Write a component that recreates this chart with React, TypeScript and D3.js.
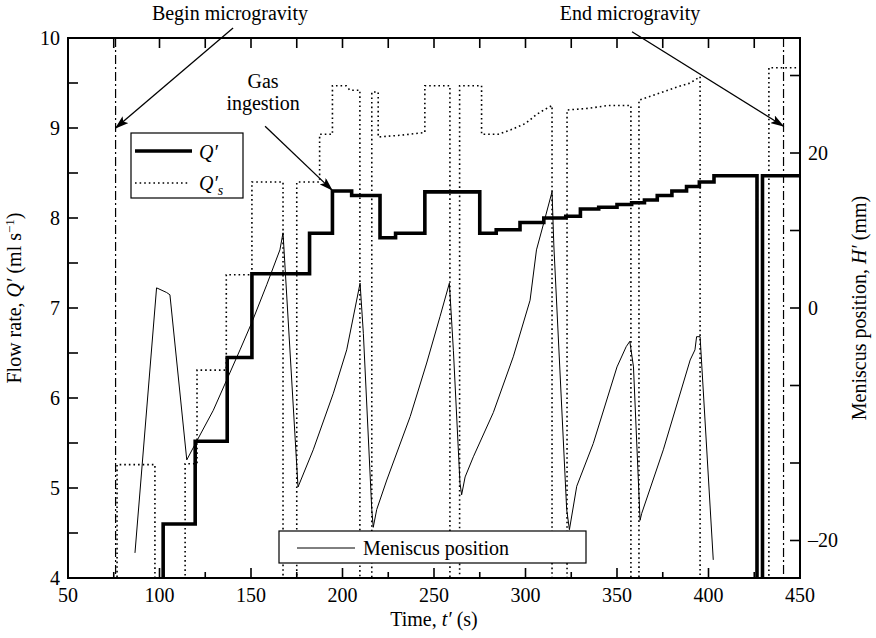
import React from 'react';
import * as d3 from 'd3';

// ---------- data ----------
// Q' (measured flow rate), step-wise, ml/s
const qTime = [102, 102, 119.5, 137, 150.5, 182, 194.5, 205, 220.5, 229, 245, 275, 284, 297, 310, 322, 330, 340, 350, 358, 365, 372, 380, 388, 395, 403, 426.5, 429.5, 450];
const qValue = [3.7, 4.6, 5.52, 6.45, 7.38, 7.83, 8.30, 8.25, 7.78, 7.83, 8.29, 7.83, 7.87, 7.95, 8.0, 8.02, 8.1, 8.12, 8.15, 8.17, 8.2, 8.25, 8.3, 8.35, 8.4, 8.47, 3.7, 8.47, 8.47];

// Q's (set flow rate), ml/s  (values below 4 = pump off, off-axis)
const qsTime = [76.8, 76.8, 97.5, 97.5, 114, 114, 120.5, 120.5, 136.5, 136.5, 150.5, 150.5, 167.5, 167.5, 175, 175, 187.5, 187.5, 194.5, 194.5, 202, 204, 209.5, 209.5, 216, 216, 219.5, 219.5, 232, 245, 245, 258.7, 258.7, 264, 264, 276, 276, 285, 292, 300, 306, 310, 314.5, 314.5, 322.7, 322.7, 335, 345, 357.6, 357.6, 362, 362, 372, 382, 390, 395.4, 395.4, 433, 433, 450];
const qsValue = [3.5, 5.26, 5.26, 3.5, 3.5, 5.27, 5.27, 6.31, 6.31, 7.37, 7.37, 8.4, 8.4, 3.5, 3.5, 8.4, 8.4, 8.93, 8.93, 9.47, 9.47, 9.42, 9.42, 3.5, 3.5, 9.4, 9.4, 8.9, 8.92, 8.95, 9.47, 9.47, 3.5, 3.5, 9.47, 9.47, 8.93, 8.93, 8.98, 9.05, 9.15, 9.2, 9.25, 3.5, 3.5, 9.2, 9.22, 9.25, 9.25, 3.5, 3.5, 9.31, 9.38, 9.45, 9.5, 9.57, 3.5, 3.5, 9.67, 9.67];

// Meniscus position H' (mm)
const hTime = [86.6, 98.4, 103.9, 105.7, 114.9, 120.3, 129.4, 136.7, 144, 150.4, 158.6, 165.8, 167.5, 175.7, 184, 195, 202.3, 209.6, 211.4, 216, 216.8, 218.7, 224.2, 237, 246, 253.3, 258.4, 260.6, 264.2, 265.1, 267, 271.5, 282.4, 293.3, 302.5, 306, 310, 314.5, 315.5, 322.5, 324, 328, 337, 350, 355, 357, 359, 362.6, 363.5, 375.3, 390, 392.6, 393.5, 395.4, 402.6];
const hValue = [-31.6, 2.6, 2.0, 1.7, -19.6, -17.2, -13.2, -9.3, -5.4, -1.9, 3, 7.5, 9.7, -23.1, -18.3, -11, -5.4, 3.2, -3.3, -26, -28.3, -26, -22.2, -14, -7.1, -1.1, 3.2, -5.5, -22.6, -24.1, -21.8, -19.2, -13.5, -6.3, 1, 7.5, 11, 15, 8, -26, -28.6, -23, -17.5, -7.6, -5, -4.3, -7.6, -27.4, -26.5, -18.3, -6.7, -5.4, -3.7, -3.7, -32.5];

// microgravity markers (s)
const beginTime = 76;
const endTime = 441;

// ticks
const xMajorTicks = [50, 100, 150, 200, 250, 300, 350, 400, 450];
const xMinorTicks = [75, 125, 175, 225, 275, 325, 375, 425];
const qMajorTicks = [4, 5, 6, 7, 8, 9, 10];
const qMinorTicks = [4.5, 5.5, 6.5, 7.5, 8.5, 9.5];
const hTicks = [-30, -20, -10, 0, 10, 20, 30];
const hLabelValues = [20, 0, -30];
const hLabelTexts = ['20', '0', '\u201320'];

const FONT = 'Liberation Serif, DejaVu Serif, serif';

export default function App() {
  const left = 68, right = 800, top = 38, bottom = 578;
  const x = d3.scaleLinear().domain([50, 450]).range([left, right]);
  const yQ = d3.scaleLinear().domain([4, 10]).range([bottom, top]);
  const yH = d3.scaleLinear().domain([-34.84, 34.84]).range([bottom, top]);

  const qLine = d3.line<number>().x((_, i) => x(qTime[i])).y((_, i) => yQ(qValue[i])).curve(d3.curveStepAfter);
  const qsLine = d3.line<number>().x((_, i) => x(qsTime[i])).y((_, i) => yQ(qsValue[i]));
  const hLine = d3.line<number>().x((_, i) => x(hTime[i])).y((_, i) => yH(hValue[i]));

  const qPath = qLine(qValue) || '';
  const qsPath = qsLine(qsValue) || '';
  const hPath = hLine(hValue) || '';

  const majorLen = 10, minorLen = 6;

  // annotations (data coordinates)
  const beginArrow = { x1: x(140.2), y1: yQ(10.11), x2: x(beginTime), y2: yQ(9.0) };
  const endArrow = { x1: x(358.2), y1: yQ(10.07), x2: x(endTime), y2: yQ(9.02) };
  const gasArrow = { x1: x(157.7), y1: yQ(9.02), x2: x(194.3), y2: yQ(8.31) };

  return (
    <svg width={876} height={638} style={{ position: 'absolute', left: 0, top: 0, background: '#fff', fontFamily: FONT }}>
      <defs>
        <clipPath id="plotClip">
          <rect x={left} y={top} width={right - left} height={bottom - top} />
        </clipPath>
        <marker id="arrowHead" markerUnits="userSpaceOnUse" markerWidth={14} markerHeight={9} refX={13} refY={4.5} orient="auto">
          <path d="M0,0 L14,4.5 L0,9 L3,4.5 Z" fill="#000" />
        </marker>
      </defs>
      <rect x={0} y={0} width={876} height={638} fill="#fff" />

      <g clipPath="url(#plotClip)">
        {/* microgravity markers */}
        <line x1={x(beginTime)} x2={x(beginTime)} y1={top} y2={bottom} stroke="#000" strokeWidth={1.2} strokeDasharray="9,3,2,3" />
        <line x1={x(endTime)} x2={x(endTime)} y1={top} y2={bottom} stroke="#000" strokeWidth={1.2} strokeDasharray="9,3,2,3" />
        {/* Q's dotted */}
        <path d={qsPath} fill="none" stroke="#000" strokeWidth={1.6} strokeDasharray="1.6,3" />
        {/* meniscus */}
        <path d={hPath} fill="none" stroke="#000" strokeWidth={1} />
        {/* Q' thick */}
        <path d={qPath} fill="none" stroke="#000" strokeWidth={3.6} strokeLinejoin="miter" />
      </g>

      {/* frame */}
      <rect x={left} y={top} width={right - left} height={bottom - top} fill="none" stroke="#000" strokeWidth={2} />

      {/* x ticks bottom & top */}
      {xMajorTicks.map(t => (
        <g key={'xM' + t}>
          <line x1={x(t)} x2={x(t)} y1={bottom} y2={bottom - majorLen} stroke="#000" strokeWidth={1.6} />
          <line x1={x(t)} x2={x(t)} y1={top} y2={top + majorLen} stroke="#000" strokeWidth={1.6} />
          <text x={x(t)} y={bottom + 24} textAnchor="middle" fontSize={20}>{t}</text>
        </g>
      ))}
      {xMinorTicks.map(t => (
        <g key={'xm' + t}>
          <line x1={x(t)} x2={x(t)} y1={bottom} y2={bottom - minorLen} stroke="#000" strokeWidth={1.6} />
          <line x1={x(t)} x2={x(t)} y1={top} y2={top + majorLen} stroke="#000" strokeWidth={1.6} />
        </g>
      ))}

      {/* left Q ticks */}
      {qMajorTicks.map(v => (
        <g key={'qM' + v}>
          <line x1={left} x2={left + majorLen} y1={yQ(v)} y2={yQ(v)} stroke="#000" strokeWidth={1.6} />
          <text x={left - 8} y={yQ(v) + 7} textAnchor="end" fontSize={20}>{v}</text>
        </g>
      ))}
      {qMinorTicks.map(v => (
        <line key={'qm' + v} x1={left} x2={left + majorLen} y1={yQ(v)} y2={yQ(v)} stroke="#000" strokeWidth={1.6} />
      ))}

      {/* right H ticks */}
      {hTicks.map(v => (
        <line key={'h' + v} x1={right} x2={right - majorLen} y1={yH(v)} y2={yH(v)} stroke="#000" strokeWidth={1.6} />
      ))}
      {hLabelValues.map((v, i) => (
        <text key={'hl' + v} x={right + 8} y={yH(v) + 7} textAnchor="start" fontSize={20}>{hLabelTexts[i]}</text>
      ))}

      {/* axis titles */}
      <text x={(left + right) / 2} y={626} textAnchor="middle" fontSize={20}>
        Time, <tspan fontStyle="italic">t′</tspan> (s)
      </text>
      <text transform={`translate(21,298) rotate(-90)`} textAnchor="middle" fontSize={20}>
        Flow rate, <tspan fontStyle="italic">Q′</tspan> (ml s<tspan dy={-7} fontSize={13}>−1</tspan><tspan dy={7}>)</tspan>
      </text>
      <text transform={`translate(866,${(top + bottom) / 2}) rotate(-90)`} textAnchor="middle" fontSize={20}>
        Meniscus position, <tspan fontStyle="italic">H′</tspan> (mm)
      </text>

      {/* annotations */}
      <text x={x(138.5)} y={20} textAnchor="middle" fontSize={20}>Begin microgravity</text>
      <line {...beginArrow} stroke="#000" strokeWidth={1.3} markerEnd="url(#arrowHead)" />
      <text x={x(357.1)} y={20} textAnchor="middle" fontSize={20}>End microgravity</text>
      <line {...endArrow} stroke="#000" strokeWidth={1.3} markerEnd="url(#arrowHead)" />
      <text x={x(156.6)} y={yQ(9.44)} textAnchor="middle" fontSize={20}>Gas</text>
      <text x={x(156.6)} y={yQ(9.2)} textAnchor="middle" fontSize={20}>ingestion</text>
      <line {...gasArrow} stroke="#000" strokeWidth={1.3} markerEnd="url(#arrowHead)" />

      {/* legend Q', Q's */}
      <rect x={131} y={133} width={112} height={65} fill="#fff" stroke="#000" strokeWidth={1.2} />
      <line x1={135} x2={192} y1={151} y2={151} stroke="#000" strokeWidth={3.6} />
      <text x={199} y={159} fontSize={20} fontStyle="italic">Q′</text>
      <line x1={135} x2={190} y1={183} y2={183} stroke="#000" strokeWidth={1.6} strokeDasharray="1.6,3" />
      <text x={199} y={190} fontSize={20} fontStyle="italic">Q′<tspan dy={5} fontSize={14}>s</tspan></text>

      {/* legend meniscus */}
      <rect x={279} y={531} width={307} height={32} fill="#fff" stroke="#000" strokeWidth={1.2} />
      <line x1={297} x2={355} y1={548} y2={548} stroke="#000" strokeWidth={1} />
      <text x={363} y={555} fontSize={20}>Meniscus position</text>
    </svg>
  );
}
